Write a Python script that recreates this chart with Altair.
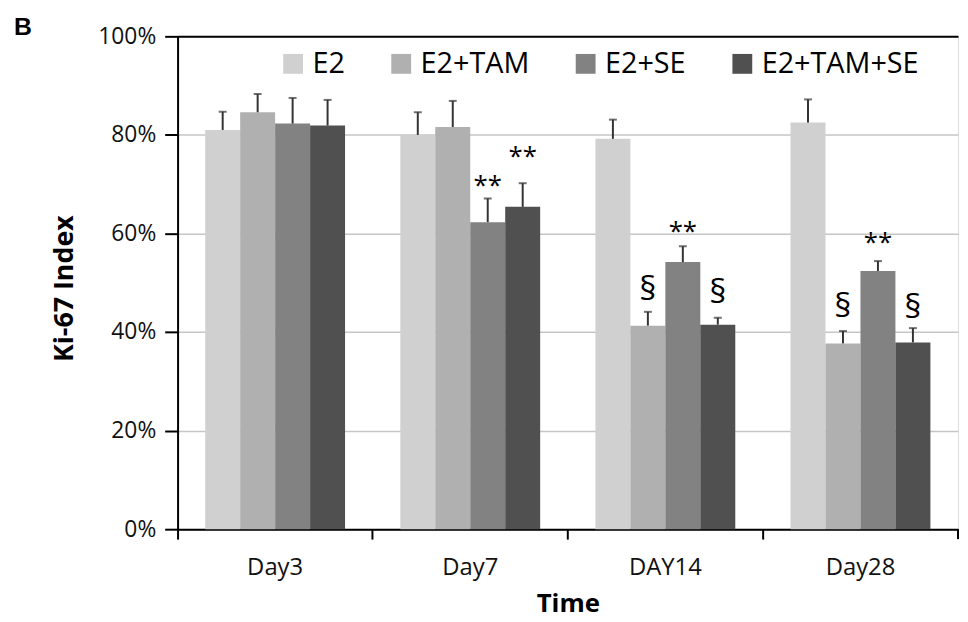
import altair as alt
import pandas as pd

days = ["Day3", "Day7", "DAY14", "Day28"]
groups = ["E2", "E2+TAM", "E2+SE", "E2+TAM+SE"]
colors = ["#d0d0d0", "#b0b0b0", "#828282", "#505050"]

mean_e2 = [81.0, 80.0, 79.2, 82.5]
mean_tam = [84.6, 81.6, 41.3, 37.7]
mean_se = [82.3, 62.3, 54.2, 52.4]
mean_tamse = [81.9, 65.4, 41.5, 37.9]

err_e2 = [3.7, 4.6, 3.9, 4.7]
err_tam = [3.7, 5.3, 2.8, 2.5]
err_se = [5.2, 4.8, 3.2, 2.0]
err_tamse = [5.2, 4.8, 1.4, 2.9]

ann_day = ["Day7", "Day7", "DAY14", "DAY14", "DAY14", "Day28", "Day28", "Day28"]
ann_group = ["E2+SE", "E2+TAM+SE", "E2+TAM", "E2+SE", "E2+TAM+SE", "E2+TAM", "E2+SE", "E2+TAM+SE"]
ann_text = ["**", "**", "§", "**", "§", "§", "**", "§"]
ann_y = [68.0, 73.8, 46.6, 58.6, 45.9, 43.1, 56.5, 42.9]

rows = []
for g, m, e in zip(groups, [mean_e2, mean_tam, mean_se, mean_tamse],
                   [err_e2, err_tam, err_se, err_tamse]):
    for d, mv, ev in zip(days, m, e):
        rows.append({"day": d, "group": g, "value": mv, "upper": mv + ev})
df = pd.DataFrame(rows)
ann = pd.DataFrame({"day": ann_day, "group": ann_group, "text": ann_text, "y": ann_y})

FONT = "Open Sans"

x_enc = alt.X("day:N", sort=days, title="Time",
              scale=alt.Scale(paddingInner=0, paddingOuter=0),
              axis=alt.Axis(bandPosition=0, labelAngle=0, labelFont=FONT, labelFontSize=24,
                            labelColor="#111", tickSize=10, tickColor="black", tickWidth=2,
                            domainColor="black", domainWidth=2, labelPadding=17,
                            titleFont=FONT, titleFontSize=26, titleFontWeight="bold",
                            titleColor="black", titlePadding=11))
xo_enc = alt.XOffset("group:N", sort=groups,
                     scale=alt.Scale(paddingInner=0, paddingOuter=0.79))
y_scale = alt.Scale(domain=[0, 100], nice=False)

bars = alt.Chart(df).mark_bar().encode(
    x=x_enc,
    xOffset=xo_enc,
    y=alt.Y("value:Q", scale=y_scale, title="Ki-67 Index",
            axis=alt.Axis(values=[0, 20, 40, 60, 80, 100], labelExpr="datum.value + '%'",
                          labelFont=FONT, labelFontSize=23, labelColor="#111",
                          tickSize=13, tickColor="black", tickWidth=2,
                          domainColor="black", domainWidth=2, labelPadding=9,
                          grid=True,
                          gridColor={"condition": {"test": "datum.value == 100", "value": "black"},
                                     "value": "#c6c6c6"},
                          gridWidth={"condition": {"test": "datum.value == 100", "value": 2},
                                     "value": 1.5},
                          titleFont=FONT, titleFontSize=27, titleFontWeight="bold",
                          titleColor="black", titleX=-106, titleY=254,
                          titleBaseline="alphabetic")),
    color=alt.Color("group:N", sort=groups,
                    scale=alt.Scale(domain=groups, range=colors),
                    legend=alt.Legend(title=None, orient="none", legendX=102, legendY=13,
                                      direction="horizontal", symbolType="square",
                                      symbolSize=400, symbolStrokeWidth=0,
                                      labelFont=FONT, labelFontSize=29, labelColor="black",
                                      labelOffset=5, columnPadding=42, labelLimit=400)),
)

err_rule = alt.Chart(df).mark_rule(color="#333", strokeWidth=2).encode(
    x=alt.X("day:N", sort=days), xOffset=xo_enc,
    y=alt.Y("value:Q", scale=y_scale), y2="upper:Q")

err_cap = alt.Chart(df).mark_tick(color="#333", size=8, thickness=2).encode(
    x=alt.X("day:N", sort=days), xOffset=xo_enc,
    y=alt.Y("upper:Q", scale=y_scale))

stars = alt.Chart(ann).transform_filter("datum.text == '**'").mark_text(
    font=FONT, fontSize=26, color="black", baseline="alphabetic").encode(
    x=alt.X("day:N", sort=days), xOffset=xo_enc,
    y=alt.Y("y:Q", scale=y_scale), text="text:N")

sects = alt.Chart(ann).transform_filter("datum.text != '**'").mark_text(
    font=FONT, fontSize=34, color="black", baseline="alphabetic").encode(
    x=alt.X("day:N", sort=days), xOffset=xo_enc,
    y=alt.Y("y:Q", scale=y_scale), text="text:N")

end_tick = alt.Chart(pd.DataFrame({"k": [0]})).mark_rule(color="black", strokeWidth=2).encode(
    x=alt.value(787), y=alt.value(497), y2=alt.value(507))

panel_label = alt.Chart(pd.DataFrame({"t": ["B"]})).mark_text(
    font="Liberation Sans", fontSize=25, fontWeight="bold", color="black",
    align="center", baseline="middle").encode(
    x=alt.value(-156), y=alt.value(-9), text="t:N")

chart = alt.layer(bars, err_rule, err_cap, stars, sects, end_tick, panel_label).properties(
    width=787, height=497,
    autosize=alt.AutoSizeParams(type="none"),
    padding={"left": 171, "top": 26, "right": 2, "bottom": 90},
).configure_view(stroke=None).configure(background="white")

chart.save("out.html", embed_options={"renderer": "svg", "actions": False})
